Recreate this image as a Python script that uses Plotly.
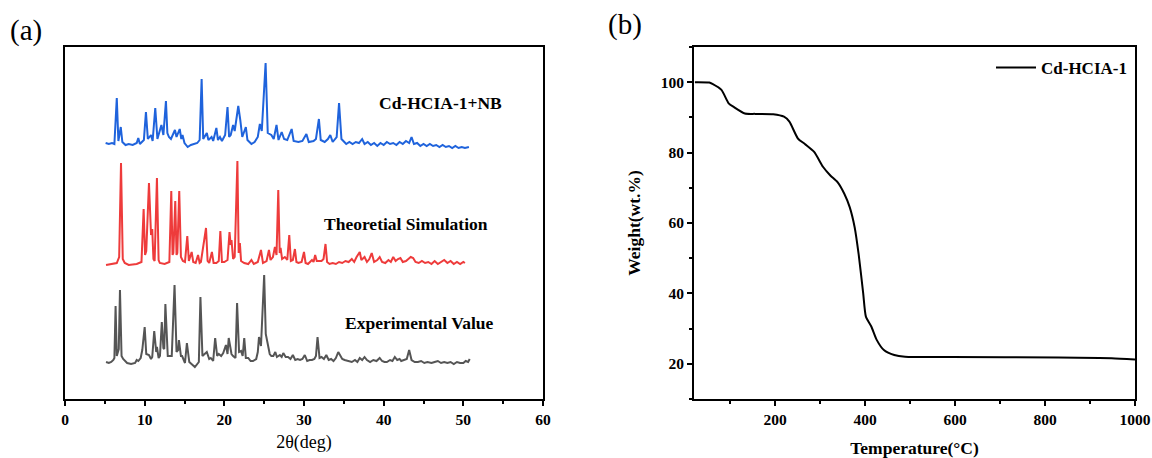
import plotly.graph_objects as go

# ---------------- (a) PXRD data (2theta in deg, intensity in a.u. above each trace's own baseline) -------------
nb_x = [5.1, 5.5, 5.9, 6.2, 6.5, 6.7, 7.0, 7.2, 7.6, 8.0, 8.5, 9.0, 9.2, 9.4, 9.9, 10.16, 10.4, 10.8, 11.0,
        11.33, 11.6, 12.1, 12.35, 12.67, 12.85, 13.05, 13.3, 13.8, 14.0, 14.4, 14.6, 14.75, 15.0, 15.4, 15.8,
        16.2, 16.6, 16.9, 17.15, 17.35, 17.8, 18.0, 18.4, 18.6, 19.0, 19.2, 19.45, 19.7, 20.1, 20.4, 20.6,
        20.8, 21.1, 21.3, 21.75, 22.0, 22.25, 22.7, 22.9, 23.4, 23.8, 24.2, 24.46, 24.7, 25.18, 25.45, 25.9,
        26.2, 26.55, 26.8, 27.2, 27.5, 27.9, 28.45, 28.7, 29.3, 29.8, 30.3, 30.6, 31.2, 31.5, 31.87, 32.1,
        32.6, 33.0, 33.3, 33.6, 34.1, 34.4, 34.7, 35.3, 35.7, 36.1, 36.5, 36.9, 37.3, 37.6, 38.0, 38.4, 38.8,
        39.2, 39.6, 40.0, 40.4, 40.8, 41.2, 41.6, 42.0, 42.4, 42.8, 43.2, 43.5, 43.8, 44.2, 44.6, 45.0, 45.4,
        45.8, 46.2, 46.6, 47.0, 47.4, 47.8, 48.2, 48.6, 49.0, 49.4, 49.8, 50.2, 50.7]
nb_y = [2, 1, 2, 1, 47, 4, 18, 3, 0, 1, 0, 2, 7, 1, 5, 33, 6, 10, 4,
        37, 6, 20, 10, 44, 12, 8, 6, 15, 8, 16, 6, 10, 2, -2, 0,
        1, 2, 5, 66, 6, 12, 5, 8, 4, 17, 5, 8, 4, 10, 38, 8,
        10, 20, 14, 39, 25, 8, 18, 5, 1, 3, 8, 21, 14, 82, 12, 10,
        6, 20, 5, 13, 6, 5, 16, 4, 3, 4, 11, 3, 4, 6, 26, 5,
        3, 6, 10, 3, 8, 42, 6, 1, 3, 1, 3, 2, 6, 1, 3, 0, 2,
        -1, 2, 0, 3, 1, 2, 0, 3, 1, 4, 2, 8, 1, 2, -1, 1, -1,
        1, -1, 0, -2, 0, -2, -1, -3, -1, -3, -2, -3, -2]

sim_x = [5.15, 6.0, 6.5, 6.8, 7.03, 7.25, 7.5, 8.0, 9.0, 9.6, 9.87, 10.05, 10.2, 10.54, 10.7, 10.8, 10.95,
         11.1, 11.25, 11.54, 11.75, 11.9, 12.5, 13.1, 13.34, 13.5, 13.6, 13.84, 14.0, 14.1, 14.34, 14.55,
         14.8, 15.06, 15.35, 15.55, 15.9, 16.1, 16.4, 16.7, 16.9, 17.06, 17.7, 17.9, 18.1, 18.44, 18.65,
         19.0, 19.3, 19.5, 19.7, 20.0, 20.4, 20.65, 20.8, 20.9, 21.1, 21.3, 21.64, 21.8, 21.95, 22.1, 22.5,
         23.0, 23.4, 23.7, 24.2, 24.6, 24.85, 25.3, 25.6, 25.8, 26.1, 26.35, 26.55, 26.77, 26.95, 27.06,
         27.25, 27.6, 27.9, 28.15, 28.35, 28.6, 28.86, 29.05, 29.3, 29.7, 30.0, 30.2, 30.5, 31.0, 31.2,
         31.4, 31.6, 31.8, 32.2, 32.45, 32.7, 32.9, 33.2, 33.6, 34.0, 34.4, 34.8, 35.2, 35.6, 36.0, 36.3,
         36.6, 37.0, 37.2, 37.6, 37.9, 38.2, 38.5, 38.8, 39.2, 39.5, 39.8, 40.2, 40.6, 40.9, 41.2, 41.5,
         41.8, 42.1, 42.4, 42.8, 43.1, 43.4, 43.7, 44.0, 44.4, 44.8, 45.2, 45.6, 46.0, 46.4, 46.8, 47.2,
         47.6, 48.0, 48.4, 48.8, 49.2, 49.6, 50.0, 50.2]
sim_y = [0, 1, 2, 8, 102, 6, 2, 0, 1, 3, 56, 10, 14, 82, 34, 30, 36,
         6, 4, 87, 5, 2, 1, 3, 74, 10, 12, 64, 10, 12, 74, 8,
         4, 3, 29, 4, 13, 3, 2, 10, 2, 3, 37, 4, 2, 13, 2,
         2, 4, 34, 3, 3, 5, 33, 20, 25, 6, 8, 104, 12, 22, 4, 2,
         1, 5, 1, 3, 15, 2, 4, 15, 5, 8, 18, 10, 75, 12, 17,
         6, 8, 5, 30, 4, 5, 16, 3, 2, 3, 13, 2, 1, 5, 3,
         10, 4, 4, 4, 6, 21, 3, 1, 2, 1, 3, 2, 4, 3, 6, 3,
         8, 13, 5, 8, 3, 6, 12, 3, 5, 8, 3, 2, 5, 3, 8, 4,
         6, 7, 3, 4, 6, 8, 7, 3, 2, 4, 2, 3, 1, 4, 1, 3,
         5, 2, 4, 1, 3, 1, 3, 2]

exp_x = [5.15, 5.5, 5.8, 6.07, 6.2, 6.35, 6.5, 6.75, 6.9, 7.1, 7.3, 7.8, 8.3, 8.8, 9.0, 9.2, 9.5, 9.7,
         10.0, 10.2, 10.54, 10.8, 10.95, 11.2, 11.45, 11.54, 11.75, 11.92, 12.15, 12.35, 12.46, 12.6, 12.9,
         13.05, 13.4, 13.75, 14.0, 14.2, 14.3, 14.55, 14.7, 15.06, 15.3, 15.6, 15.9, 16.3, 16.8, 17.0, 17.25,
         17.5, 17.8, 18.1, 18.3, 18.6, 18.85, 19.1, 19.3, 19.6, 19.86, 20.2, 20.4, 20.55, 20.9, 21.1, 21.4,
         21.6, 21.85, 22.1, 22.3, 22.5, 22.7, 23.0, 23.3, 23.6, 24.0, 24.2, 24.35, 24.6, 24.75, 25.0,
         25.2, 25.4, 25.7, 25.9, 26.15, 26.4, 26.6, 26.97, 27.2, 27.4, 27.7, 28.0, 28.3, 28.6, 28.9, 29.2,
         29.5, 29.8, 30.1, 30.4, 30.7, 31.0, 31.3, 31.5, 31.7, 31.95, 32.2, 32.5, 32.8, 33.1, 33.4, 33.7,
         34.0, 34.3, 34.8, 35.1, 35.5, 36.0, 36.4, 36.7, 37.0, 37.3, 37.6, 37.9, 38.3, 38.7, 39.1, 39.5,
         39.8, 40.1, 40.4, 40.8, 41.1, 41.4, 41.7, 42.0, 42.2, 42.6, 42.9, 43.2, 43.5, 43.9, 44.3, 44.7,
         45.1, 45.5, 46.0, 46.4, 46.8, 47.2, 47.6, 48.0, 48.4, 48.8, 49.2, 49.6, 50.0, 50.3, 50.6, 50.8]
exp_y = [2, 1, 2, 4, 6, 58, 8, 15, 74, 8, 5, 1, 0, 1, 4, 3, 6, 14,
         37, 10, 9, 5, 7, 33, 12, 17, 6, 8, 42, 16, 15, 60, 8,
         8, 8, 79, 12, 14, 24, 8, 8, 1, 21, 2, 0, -3, 2, 67, 8,
         10, 12, 5, 6, 3, 26, 8, 10, 8, 11, 19, 10, 26, 10, 8, 6,
         61, 12, 13, 8, 26, 6, 6, 3, 3, 5, 12, 27, 18, 44, 89,
         30, 21, 10, 8, 8, 12, 7, 9, 7, 11, 7, 7, 5, 9, 4, 5,
         4, 5, 9, 3, 4, 4, 5, 8, 27, 6, 7, 5, 9, 4, 5, 3,
         6, 12, 5, 4, 3, 2, 4, 2, 6, 4, 7, 4, 2, 4, 3, 6,
         3, 2, 2, 4, 3, 7, 4, 5, 3, 4, 5, 14, 4, 2, 2, 3,
         1, 2, 1, 2, 3, 1, 2, 1, 2, 0, 2, 1, 1, 3, 2, 5]

xrd_names = ["Cd-HCIA-1+NB", "Theoretial Simulation", "Experimental Value"]

# ---------------- (b) TGA data -------------
tga_T = [22, 54, 61, 81, 97, 109, 133, 156, 196, 220, 232, 251, 267, 287, 307, 323, 339, 354, 366, 377,
         386, 396, 402, 414, 426, 442, 465, 489, 592, 830, 948, 1000]
tga_w = [100.0, 99.9, 99.5, 97.8, 94.0, 92.9, 91.1, 91.0, 90.9, 90.2, 88.8, 84.0, 82.4, 80.2, 75.9, 73.5,
         71.6, 68.3, 64.5, 58.8, 51.0, 40.0, 33.4, 30.6, 26.8, 23.9, 22.5, 22.0, 21.9, 21.8, 21.6, 21.2]
tga_name = "Cd-HCIA-1"

# ---------------- layout helpers -------------
W, H = 1152, 458
SERIF = "Liberation Serif"
def px(x):
    return x / W
def py(y):
    return 1 - y / H

dom_y = [py(399), py(47)]
dom_x1 = [px(65), px(543)]
dom_x2 = [px(694), px(1135)]

offsets = [254, 134, 35]          # vertical stacking of the three patterns
colors = ["#1f63dc", "#ee3b3b", "#555555"]

fig = go.Figure()
for xs, ys, name, off, col in zip([nb_x, sim_x, exp_x], [nb_y, sim_y, exp_y], xrd_names, offsets, colors):
    fig.add_trace(go.Scatter(x=xs, y=[v + off for v in ys], mode="lines", name=name,
                             line=dict(color=col, width=2), showlegend=False,
                             xaxis="x", yaxis="y"))

fig.add_trace(go.Scatter(x=tga_T, y=tga_w, mode="lines", name=tga_name,
                         line=dict(color="black", width=2, shape="spline", smoothing=0.6),
                         showlegend=True, xaxis="x2", yaxis="y2"))

tickfont = dict(family=SERIF, size=15.5, color="black", weight="bold")
axis_common = dict(showline=True, linewidth=2, linecolor="black", mirror=True,
                   showgrid=False, zeroline=False, automargin=False)

fig.update_layout(
    template="none",
    width=W, height=H, autosize=False,
    margin=dict(l=0, r=0, t=0, b=0),
    paper_bgcolor="white", plot_bgcolor="white",
    xaxis=dict(domain=dom_x1, range=[0, 60], dtick=10, tick0=0, ticks="outside", ticklen=5,
               tickwidth=2, tickcolor="black", tickfont=tickfont,
               minor=dict(dtick=5, ticks="outside", ticklen=3, tickwidth=2, tickcolor="black"),
               title=dict(text="2θ(deg)", font=dict(family=SERIF, size=18, color="black"), standoff=9),
               anchor="y", **axis_common),
    yaxis=dict(domain=dom_y, range=[0, 352], showticklabels=False, ticks="", anchor="x", **axis_common),
    xaxis2=dict(domain=dom_x2, range=[20, 1000], tickvals=[200, 400, 600, 800, 1000], ticks="outside",
                ticklen=5, tickwidth=2, tickcolor="black", tickfont=tickfont,
                minor=dict(dtick=100, tick0=0, ticks="outside", ticklen=3, tickwidth=2, tickcolor="black"),
                title=dict(text="<b>Temperature(°C)</b>", font=dict(family=SERIF, size=17.5, color="black"), standoff=16),
                anchor="y2", **axis_common),
    yaxis2=dict(domain=dom_y, range=[10, 110], tickvals=[20, 40, 60, 80, 100], ticks="outside",
                ticklen=5, tickwidth=2, tickcolor="black", tickfont=tickfont,
                minor=dict(dtick=10, tick0=0, ticks="outside", ticklen=3, tickwidth=2, tickcolor="black"),
                title=dict(text="<b>Weight(wt.%)</b>", font=dict(family=SERIF, size=17.5, color="black"), standoff=16),
                anchor="x2", **axis_common),
    legend=dict(x=px(1132), y=py(68), xanchor="right", yanchor="middle", bgcolor="rgba(0,0,0,0)",
                borderwidth=0, font=dict(family=SERIF, size=17, color="black", weight="bold"), itemwidth=40),
)

# labels for the stacked patterns
label_pos = [(47.1, 296), (42.8, 175), (44.5, 76)]
for name, (lx, ly) in zip(xrd_names, label_pos):
    fig.add_annotation(x=lx, y=ly, xref="x", yref="y", text=f"<b>{name}</b>", showarrow=False,
                       font=dict(family=SERIF, size=17.5, color="black"), xanchor="center", yanchor="middle")

# panel tags
fig.add_annotation(x=px(26), y=py(30), xref="paper", yref="paper", text="(a)", showarrow=False,
                   font=dict(family=SERIF, size=29, color="black"), xanchor="center", yanchor="middle")
fig.add_annotation(x=px(625), y=py(25), xref="paper", yref="paper", text="(b)", showarrow=False,
                   font=dict(family=SERIF, size=29, color="black"), xanchor="center", yanchor="middle")

fig.write_html("out.html")
